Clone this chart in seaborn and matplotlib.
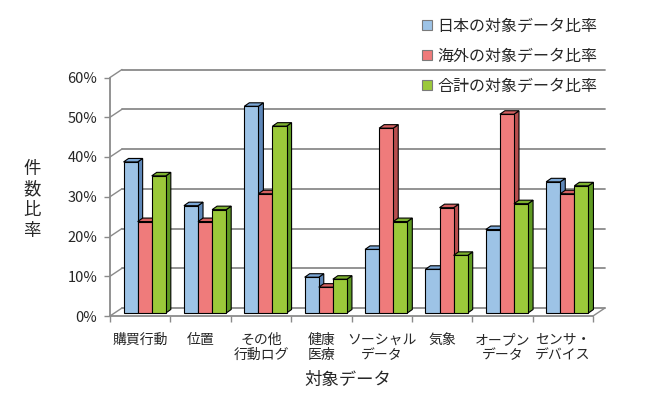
import numpy as np
import pandas as pd
import matplotlib
matplotlib.use('Agg')
import matplotlib.pyplot as plt
import seaborn as sns
from matplotlib.patches import Polygon, Patch
from matplotlib.ticker import PercentFormatter

# data (percent)
categories = ['購買行動', '位置', 'その他\n行動ログ', '健康\n医療', 'ソーシャル\nデータ',
              '気象', 'オープン\nデータ', 'センサ・\nデバイス']
series = ['日本の対象データ比率', '海外の対象データ比率', '合計の対象データ比率']
japan = [38, 27, 52, 9, 16, 11, 21, 33]
overseas = [23, 23, 30, 6.5, 46.5, 26.5, 50, 30]
total = [34.5, 26, 47, 8.5, 23, 14.5, 27.5, 32]

front_colors = ['#9DC3E6', '#EF7B7B', '#9BC93A']
side_colors = ['#5E87B8', '#B84E4E', '#5E9A22']
top_colors = ['#7BA7D6', '#D46060', '#7DB12F']

sns.set_style('white')
plt.rcParams['font.family'] = ['Noto Sans CJK JP', 'DejaVu Sans']

df = pd.DataFrame({
    'category': categories * 3,
    'series': [s for s in series for _ in categories],
    'value': japan + overseas + total,
})

W, H = 648, 398
fig = plt.figure(figsize=(W / 100, H / 100), dpi=100)
left_px, right_px, bottom_px, top_px = 110, 593, 316, 77.5
ax = fig.add_axes([left_px / W, 1 - bottom_px / H,
                   (right_px - left_px) / W, (bottom_px - top_px) / H])

sns.barplot(data=df, x='category', y='value', hue='series', palette=front_colors,
            width=0.7, saturation=1, edgecolor='black', linewidth=0.8,
            legend=False, ax=ax)

ax.set_xlim(-0.5, 7.5)
ax.set_ylim(0, 60)

# pixel -> data units (fixed axes box)
sx = 8 / (right_px - left_px)
sy = 60 / (bottom_px - top_px)

grid_c = '#8a8a8a'
text_c = '#262626'
wall_dx, wall_dy = 12 * sx, 8 * sy      # back wall offset
bar_dx, bar_dy = 4.5 * sx, 3 * sy       # bars sit a bit behind the front plane
dep_dx, dep_dy = 5 * sx, 3.5 * sy       # bar depth

# back wall gridlines + slanted connectors
for v in range(0, 70, 10):
    ax.plot([-0.5 + wall_dx, 7.5 + wall_dx], [v + wall_dy, v + wall_dy],
            color=grid_c, lw=1.3, clip_on=False, zorder=1)
    ax.plot([-0.5, -0.5 + wall_dx], [v, v + wall_dy],
            color=grid_c, lw=1.0, clip_on=False, zorder=1)
ax.plot([7.5, 7.5 + wall_dx], [0, wall_dy], color=grid_c, lw=1.0, clip_on=False, zorder=1)

# 3D faces for every bar
bars = []
for i, cont in enumerate(ax.containers):
    for p in cont.patches:
        bars.append((p.get_x(), i, p))
bars.sort(key=lambda b: b[0])
for k, (_, i, p) in enumerate(bars):
    x0 = p.get_x() + bar_dx
    y0 = p.get_y() + bar_dy
    w, h = p.get_width(), p.get_height()
    x1, y1 = x0 + w, y0 + h
    p.set_x(x0)
    p.set_y(y0)
    z = 2 + k * 0.01
    p.set_zorder(z + 0.005)
    p.set_clip_on(False)
    side = Polygon([(x1, y0), (x1 + dep_dx, y0 + dep_dy), (x1 + dep_dx, y1 + dep_dy), (x1, y1)],
                   closed=True, facecolor=side_colors[i], edgecolor='black', lw=0.8,
                   zorder=z, clip_on=False)
    top = Polygon([(x0, y1), (x0 + dep_dx, y1 + dep_dy), (x1 + dep_dx, y1 + dep_dy), (x1, y1)],
                  closed=True, facecolor=top_colors[i], edgecolor='black', lw=0.8,
                  zorder=z, clip_on=False)
    ax.add_patch(side)
    ax.add_patch(top)

# axes styling
for s in ['top', 'right']:
    ax.spines[s].set_visible(False)
for s in ['left', 'bottom']:
    ax.spines[s].set_color(grid_c)
    ax.spines[s].set_linewidth(1.3)
ax.set_yticks(range(0, 70, 10))
ax.yaxis.set_major_formatter(PercentFormatter(100, decimals=0))
ax.tick_params(axis='y', length=4, width=1, color=grid_c, pad=5, labelsize=10.5,
               labelcolor=text_c, left=True)
ax.set_xticks(range(8))
ax.set_xticklabels(categories, linespacing=1.15)
ax.set_xticks(np.arange(-0.5, 8, 1), minor=True)
ax.tick_params(axis='x', which='major', length=0, pad=12, labelsize=10, labelcolor=text_c)
ax.tick_params(axis='x', which='minor', length=4, width=1, color=grid_c, bottom=True)
ax.set_xlabel('')
ax.set_ylabel('')
ax.grid(False)

fig.text(32 / W, 1 - 200 / H, '件\n数\n比\n率', ha='center', va='center',
         fontsize=12.5, linespacing=1.2, color=text_c)
fig.text(348 / W, 1 - 380 / H, '対象データ', ha='center', va='center',
         fontsize=12.5, color=text_c)

handles = [Patch(facecolor=c, edgecolor='#7a7a7a', lw=0.8) for c in front_colors]
fig.legend(handles, series, loc='upper left', bbox_to_anchor=(422 / W, 1 - 18 / H),
           frameon=False, fontsize=11.5, handlelength=0.6, handleheight=0.6,
           handletextpad=0.35, labelspacing=0.8, borderpad=0, borderaxespad=0,
           labelcolor=text_c)

fig.savefig('out.png', dpi=100)
